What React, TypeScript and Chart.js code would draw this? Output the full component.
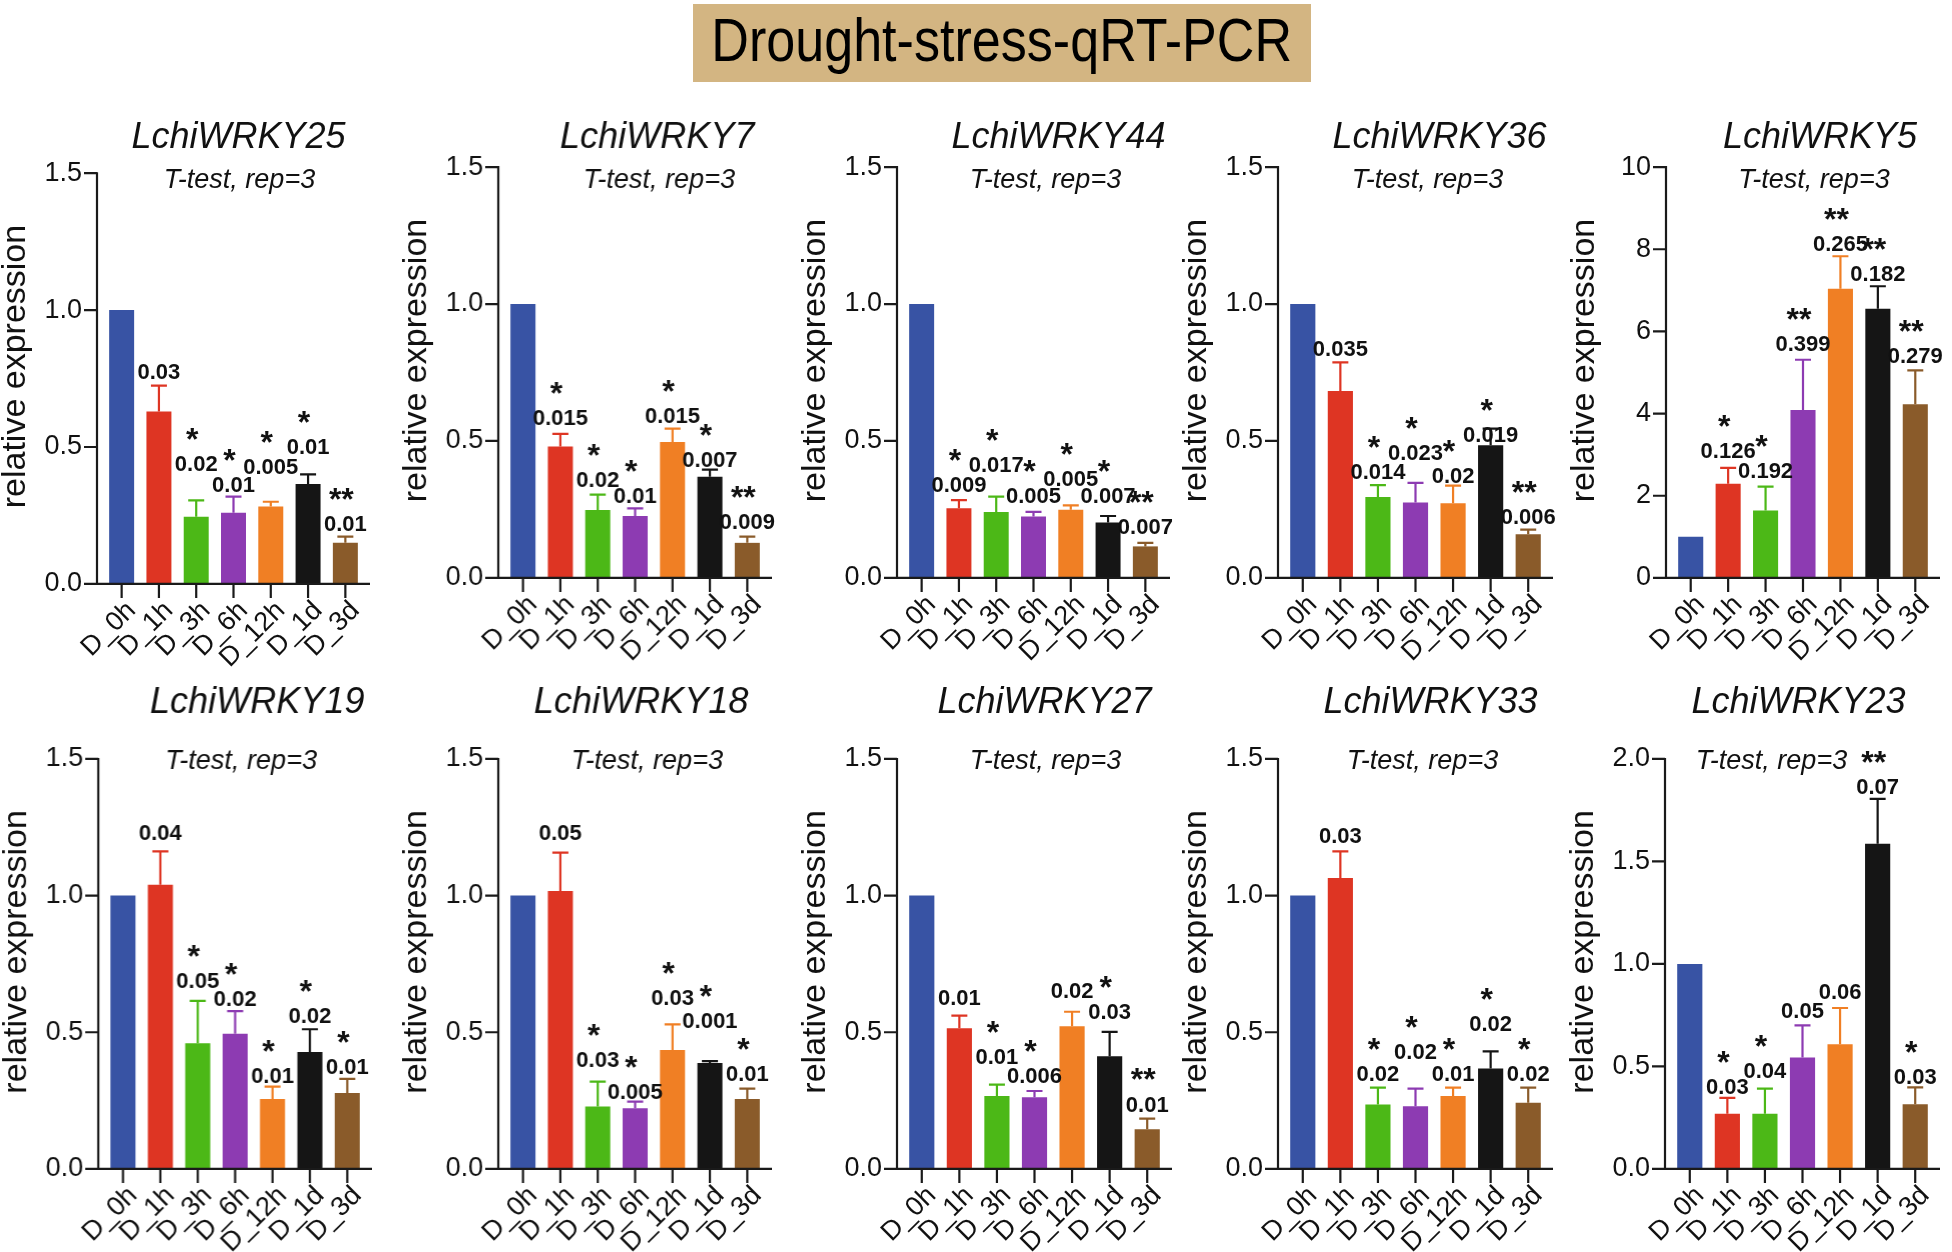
import React, { useEffect, useRef } from 'react';
import { Chart, registerables } from 'chart.js';

Chart.register(...registerables);

// ---------------- data ----------------
const CATEGORIES = ['D_0h', 'D_1h', 'D_3h', 'D_6h', 'D_12h', 'D_1d', 'D_3d'];
const BAR_COLORS = ['#3853A4', '#DE3523', '#4CB817', '#8D3BB2', '#F07F24', '#151515', '#8A5B2A'];
const MAIN_TITLE = 'Drought-stress-qRT-PCR';
const SUBTITLE = 'T-test, rep=3';
const Y_TITLE = 'relative expression';

const WRKY25_MEAN = [1.0, 0.63, 0.245, 0.26, 0.283, 0.365, 0.15];
const WRKY25_SD = [0, 0.094, 0.06, 0.059, 0.017, 0.035, 0.023];
const WRKY25_P = ['', '0.03', '0.02', '0.01', '0.005', '0.01', '0.01'];
const WRKY25_STARS = ['', '', '*', '*', '*', '*', '**'];
const WRKY25_LABEL_AT = [0, 0.772, 0.434, 0.359, 0.424, 0.496, 0.215];

const WRKY7_MEAN = [1.0, 0.48, 0.248, 0.226, 0.496, 0.369, 0.128];
const WRKY7_SD = [0, 0.046, 0.056, 0.028, 0.049, 0.026, 0.023];
const WRKY7_P = ['', '0.015', '0.02', '0.01', '0.015', '0.007', '0.009'];
const WRKY7_STARS = ['', '*', '*', '*', '*', '*', '**'];
const WRKY7_LABEL_AT = [0, 0.58, 0.353, 0.297, 0.588, 0.428, 0.2];

const WRKY44_MEAN = [1.0, 0.254, 0.241, 0.224, 0.249, 0.202, 0.115];
const WRKY44_SD = [0, 0.03, 0.056, 0.017, 0.016, 0.024, 0.013];
const WRKY44_P = ['', '0.009', '0.017', '0.005', '0.005', '0.007', '0.007'];
const WRKY44_STARS = ['', '*', '*', '*', '*', '*', '**'];
const WRKY44_LABEL_AT = [0, 0.337, 0.409, 0.297, 0.356, 0.297, 0.184];

const WRKY36_MEAN = [1.0, 0.682, 0.295, 0.275, 0.273, 0.484, 0.159];
const WRKY36_SD = [0, 0.105, 0.044, 0.072, 0.064, 0.061, 0.017];
const WRKY36_P = ['', '0.035', '0.014', '0.023', '0.02', '0.019', '0.006'];
const WRKY36_STARS = ['', '', '*', '*', '*', '*', '**'];
const WRKY36_LABEL_AT = [0, 0.832, 0.382, 0.454, 0.369, 0.519, 0.219];

const WRKY5_MEAN = [1.0, 2.29, 1.64, 4.09, 7.04, 6.55, 4.23];
const WRKY5_SD = [0, 0.39, 0.58, 1.22, 0.79, 0.55, 0.82];
const WRKY5_P = ['', '0.126', '0.192', '0.399', '0.265', '0.182', '0.279'];
const WRKY5_STARS = ['', '*', '*', '**', '**', '**', '**'];
const WRKY5_LABEL_AT = [0, 3.07, 2.59, 5.68, 8.11, 7.37, 5.37];

const WRKY19_MEAN = [1.0, 1.04, 0.46, 0.494, 0.256, 0.428, 0.278];
const WRKY19_SD = [0, 0.122, 0.155, 0.083, 0.045, 0.083, 0.051];
const WRKY19_P = ['', '0.04', '0.05', '0.02', '0.01', '0.02', '0.01'];
const WRKY19_STARS = ['', '', '*', '*', '*', '*', '*'];
const WRKY19_LABEL_AT = [0, 1.227, 0.685, 0.619, 0.336, 0.557, 0.37];

const WRKY18_MEAN = [1.0, 1.017, 0.228, 0.222, 0.435, 0.387, 0.256];
const WRKY18_SD = [0, 0.14, 0.091, 0.024, 0.094, 0.007, 0.038];
const WRKY18_P = ['', '0.05', '0.03', '0.005', '0.03', '0.001', '0.01'];
const WRKY18_STARS = ['', '', '*', '*', '*', '*', '*'];
const WRKY18_LABEL_AT = [0, 1.227, 0.395, 0.278, 0.622, 0.536, 0.343];

const WRKY27_MEAN = [1.0, 0.515, 0.267, 0.262, 0.522, 0.412, 0.145];
const WRKY27_SD = [0, 0.046, 0.041, 0.023, 0.053, 0.089, 0.039];
const WRKY27_P = ['', '0.01', '0.01', '0.006', '0.02', '0.03', '0.01'];
const WRKY27_STARS = ['', '', '*', '*', '', '*', '**'];
const WRKY27_LABEL_AT = [0, 0.622, 0.405, 0.336, 0.646, 0.57, 0.232];

const WRKY33_MEAN = [1.0, 1.064, 0.236, 0.229, 0.267, 0.367, 0.242];
const WRKY33_SD = [0, 0.098, 0.061, 0.065, 0.03, 0.063, 0.055];
const WRKY33_P = ['', '0.03', '0.02', '0.02', '0.01', '0.02', '0.02'];
const WRKY33_STARS = ['', '', '*', '*', '*', '*', '*'];
const WRKY33_LABEL_AT = [0, 1.215, 0.343, 0.425, 0.343, 0.525, 0.343];

const WRKY23_MEAN = [1.0, 0.269, 0.269, 0.543, 0.608, 1.586, 0.315];
const WRKY23_SD = [0, 0.077, 0.123, 0.157, 0.177, 0.219, 0.083];
const WRKY23_P = ['', '0.03', '0.04', '0.05', '0.06', '0.07', '0.03'];
const WRKY23_STARS = ['', '*', '*', '', '', '**', '*'];
const WRKY23_LABEL_AT = [0, 0.396, 0.475, 0.764, 0.856, 1.856, 0.444];

const Y_TICKS_15 = { max: 1.5, step: 0.5, decimals: 1 };
const Y_TICKS_10 = { max: 10, step: 2, decimals: 0 };
const Y_TICKS_20 = { max: 2.0, step: 0.5, decimals: 1 };

// ---------------- layout (pixels) ----------------
const ROW_TOP = [95, 665];
const ROW_HEIGHT = [585, 587];
const ROW_TITLE_Y = [148, 713];
const ROW_SUB_Y = [187.5, 768.5];

const FONT = "'Liberation Sans', Arial, Helvetica, sans-serif";

type PanelDef = {
  gene: string;
  mean: number[];
  sd: number[];
  p: string[];
  stars: string[];
  labelAt: number[];
  yAxis: { max: number; step: number; decimals: number };
  row: number;
  axisX: number;
  right: number;
  top: number;
  zero: number;
  titleDx: number;
  subDx: number;
};

const PANELS: PanelDef[] = [
  { gene: 'LchiWRKY25', mean: WRKY25_MEAN, sd: WRKY25_SD, p: WRKY25_P, stars: WRKY25_STARS, labelAt: WRKY25_LABEL_AT, yAxis: Y_TICKS_15, row: 0, axisX: 96.7, right: 370, top: 173.2, zero: 583.9, titleDx: 5, subDx: 6 },
  { gene: 'LchiWRKY7', mean: WRKY7_MEAN, sd: WRKY7_SD, p: WRKY7_P, stars: WRKY7_STARS, labelAt: WRKY7_LABEL_AT, yAxis: Y_TICKS_15, row: 0, axisX: 498.3, right: 771.7, top: 167.1, zero: 577.9, titleDx: 22, subDx: 24 },
  { gene: 'LchiWRKY44', mean: WRKY44_MEAN, sd: WRKY44_SD, p: WRKY44_P, stars: WRKY44_STARS, labelAt: WRKY44_LABEL_AT, yAxis: Y_TICKS_15, row: 0, axisX: 896.7, right: 1170, top: 167.1, zero: 577.9, titleDx: 25, subDx: 12 },
  { gene: 'LchiWRKY36', mean: WRKY36_MEAN, sd: WRKY36_SD, p: WRKY36_P, stars: WRKY36_STARS, labelAt: WRKY36_LABEL_AT, yAxis: Y_TICKS_15, row: 0, axisX: 1278.3, right: 1553.3, top: 167.1, zero: 577.9, titleDx: 24, subDx: 12 },
  { gene: 'LchiWRKY5', mean: WRKY5_MEAN, sd: WRKY5_SD, p: WRKY5_P, stars: WRKY5_STARS, labelAt: WRKY5_LABEL_AT, yAxis: Y_TICKS_10, row: 0, axisX: 1666, right: 1940, top: 167.1, zero: 577.9, titleDx: 17, subDx: 11 },
  { gene: 'LchiWRKY19', mean: WRKY19_MEAN, sd: WRKY19_SD, p: WRKY19_P, stars: WRKY19_STARS, labelAt: WRKY19_LABEL_AT, yAxis: Y_TICKS_15, row: 1, axisX: 98.3, right: 371.7, top: 758.9, zero: 1168.9, titleDx: 22, subDx: 6 },
  { gene: 'LchiWRKY18', mean: WRKY18_MEAN, sd: WRKY18_SD, p: WRKY18_P, stars: WRKY18_STARS, labelAt: WRKY18_LABEL_AT, yAxis: Y_TICKS_15, row: 1, axisX: 498.3, right: 771.7, top: 758.9, zero: 1168.9, titleDx: 6, subDx: 12 },
  { gene: 'LchiWRKY27', mean: WRKY27_MEAN, sd: WRKY27_SD, p: WRKY27_P, stars: WRKY27_STARS, labelAt: WRKY27_LABEL_AT, yAxis: Y_TICKS_15, row: 1, axisX: 896.7, right: 1171.7, top: 758.9, zero: 1168.9, titleDx: 10, subDx: 11 },
  { gene: 'LchiWRKY33', mean: WRKY33_MEAN, sd: WRKY33_SD, p: WRKY33_P, stars: WRKY33_STARS, labelAt: WRKY33_LABEL_AT, yAxis: Y_TICKS_15, row: 1, axisX: 1278.3, right: 1553.3, top: 758.9, zero: 1168.9, titleDx: 15, subDx: 7 },
  { gene: 'LchiWRKY23', mean: WRKY23_MEAN, sd: WRKY23_SD, p: WRKY23_P, stars: WRKY23_STARS, labelAt: WRKY23_LABEL_AT, yAxis: Y_TICKS_20, row: 1, axisX: 1665, right: 1940, top: 758.9, zero: 1168.9, titleDx: -4, subDx: -31 },
];

const LEFT_MARGIN = 100; // canvas space left of the y-axis line
const RIGHT_MARGIN = 12; // canvas space right of the x-axis line end
const AXIS_GAP = 6; // gap between axis line and plot area
const AXIS_COLOR = '#1a1a1a';
const Y_TITLE_OFFSET = 81; // distance of y-title centre left of the axis line
const Y_TITLE_RAISE = 12; // y-title centre raised above the axis middle

function BarPanel({ def }: { def: PanelDef }) {
  const ref = useRef<HTMLCanvasElement | null>(null);
  const rowTop = ROW_TOP[def.row];
  const height = ROW_HEIGHT[def.row];
  const width = def.right - def.axisX + LEFT_MARGIN + RIGHT_MARGIN;
  const left = def.axisX - LEFT_MARGIN;

  useEffect(() => {
    const canvas = ref.current;
    if (!canvas) return;
    const topPad = def.top - rowTop;
    const xAxisHeight = height - (def.zero - rowTop);

    const panelPlugin = {
      id: 'panelDecor',
      afterDatasetsDraw(chart: any) {
        const ctx = chart.ctx;
        const xs = chart.scales.x;
        const ys = chart.scales.y;
        ctx.save();
        ctx.lineWidth = 2.2;
        ctx.lineCap = 'butt';
        def.mean.forEach((m, i) => {
          const e = def.sd[i];
          if (!e) return;
          const x = xs.getPixelForValue(i);
          const y1 = ys.getPixelForValue(m);
          const y2 = ys.getPixelForValue(m + e);
          ctx.strokeStyle = BAR_COLORS[i];
          ctx.beginPath();
          ctx.moveTo(x, y1);
          ctx.lineTo(x, y2);
          ctx.moveTo(x - 8, y2);
          ctx.lineTo(x + 8, y2);
          ctx.stroke();
        });
        ctx.restore();
      },
      afterDraw(chart: any) {
        const ctx = chart.ctx;
        const xs = chart.scales.x;
        const ys = chart.scales.y;
        const area = chart.chartArea;
        const axisX = area.left - AXIS_GAP;
        const zeroY = ys.getPixelForValue(0);
        const topY = ys.getPixelForValue(def.yAxis.max);
        ctx.save();
        // axes
        ctx.strokeStyle = AXIS_COLOR;
        ctx.lineWidth = 2.2;
        ctx.beginPath();
        ctx.moveTo(axisX, topY - 1);
        ctx.lineTo(axisX, zeroY + 1);
        ctx.moveTo(axisX - 1, zeroY);
        ctx.lineTo(area.right + AXIS_GAP, zeroY);
        ys.ticks.forEach((t: any) => {
          const y = ys.getPixelForValue(t.value);
          ctx.moveTo(axisX - 13, y);
          ctx.lineTo(axisX, y);
        });
        CATEGORIES.forEach((_, i) => {
          const x = xs.getPixelForValue(i);
          ctx.moveTo(x, zeroY);
          ctx.lineTo(x, zeroY + 14);
        });
        ctx.stroke();

        // y-axis title
        ctx.fillStyle = '#111';
        ctx.save();
        ctx.translate(axisX - Y_TITLE_OFFSET, (topY + zeroY) / 2 - Y_TITLE_RAISE);
        ctx.rotate(-Math.PI / 2);
        ctx.font = `34px ${FONT}`;
        ctx.textAlign = 'center';
        ctx.textBaseline = 'middle';
        ctx.fillText(Y_TITLE, 0, 0);
        ctx.restore();

        // p-values and stars
        ctx.textAlign = 'center';
        def.p.forEach((txt, i) => {
          if (!txt) return;
          const x = xs.getPixelForValue(i);
          const y = ys.getPixelForValue(def.labelAt[i]);
          ctx.font = `bold 22px ${FONT}`;
          ctx.textBaseline = 'middle';
          ctx.fillText(txt, x, y);
          const s = def.stars[i];
          if (s) {
            ctx.font = `bold 32px ${FONT}`;
            ctx.textBaseline = 'alphabetic';
            ctx.fillText(s, x - 4, y - 33 + 18);
          }
        });

        // titles
        const cx = (area.left + area.right) / 2;
        ctx.textBaseline = 'alphabetic';
        ctx.font = `italic 36px ${FONT}`;
        ctx.fillText(def.gene, cx + def.titleDx, ROW_TITLE_Y[def.row] - rowTop);
        ctx.font = `italic 27px ${FONT}`;
        ctx.fillText(SUBTITLE, cx + def.subDx, ROW_SUB_Y[def.row] - rowTop);
        ctx.restore();
      },
    };

    const chart = new Chart(canvas, {
      type: 'bar',
      data: {
        labels: CATEGORIES,
        datasets: [
          {
            data: def.mean,
            backgroundColor: BAR_COLORS,
            borderWidth: 0,
            barPercentage: 0.67,
            categoryPercentage: 1,
          },
        ],
      },
      options: {
        responsive: false,
        animation: false,
        devicePixelRatio: 1,
        layout: { padding: { left: 0, right: RIGHT_MARGIN + AXIS_GAP, top: topPad, bottom: 0 } },
        plugins: {
          legend: { display: false },
          title: { display: false },
          tooltip: { enabled: false },
        },
        scales: {
          x: {
            grid: { display: false, drawTicks: false },
            border: { display: false },
            ticks: {
              autoSkip: false,
              minRotation: 45,
              maxRotation: 45,
              padding: 11,
              labelOffset: 10,
              color: '#111',
              font: { size: 27, family: FONT },
            },
            afterFit: (scale: any) => {
              scale.height = xAxisHeight;
            },
          },
          y: {
            min: 0,
            max: def.yAxis.max,
            grid: { display: false, drawTicks: false },
            border: { display: false },
            ticks: {
              stepSize: def.yAxis.step,
              padding: 21,
              color: '#111',
              font: { size: 27, family: FONT },
              callback: (v: any) => Number(v).toFixed(def.yAxis.decimals),
            },
            afterFit: (scale: any) => {
              scale.width = LEFT_MARGIN + AXIS_GAP;
            },
          },
        },
      },
      plugins: [panelPlugin],
    } as any);

    return () => chart.destroy();
  }, [def]);

  return (
    <canvas
      ref={ref}
      width={width}
      height={height}
      style={{ position: 'absolute', left, top: rowTop, width, height }}
    />
  );
}

export default function App() {
  return (
    <div
      style={{
        position: 'absolute',
        left: 0,
        top: 0,
        width: 1952,
        height: 1252,
        overflow: 'hidden',
        background: '#ffffff',
        fontFamily: FONT,
      }}
    >
      <div
        style={{
          position: 'absolute',
          left: 693,
          top: 4,
          width: 618,
          height: 78,
          background: '#D3B582',
          display: 'flex',
          alignItems: 'center',
          justifyContent: 'center',
          paddingBottom: 6,
          boxSizing: 'border-box',
        }}
      >
        <span
          style={{
            display: 'inline-block',
            fontSize: 62,
            color: '#000',
            transform: 'scaleX(0.84)',
            whiteSpace: 'nowrap',
            lineHeight: 1,
          }}
        >
          {MAIN_TITLE}
        </span>
      </div>
      {PANELS.map((d) => (
        <BarPanel key={d.gene} def={d} />
      ))}
    </div>
  );
}
